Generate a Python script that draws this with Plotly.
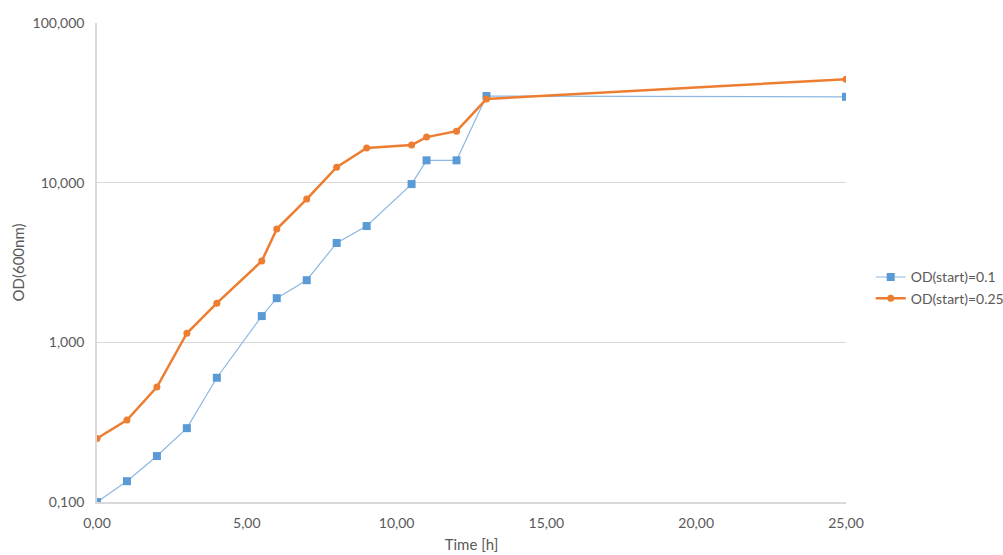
import plotly.graph_objects as go

# Growth curves: optical density over time for two starting densities
time_h = [0, 1, 2, 3, 4, 5.5, 6, 7, 8, 9, 10.5, 11, 12, 13, 25]
od_start_01 = [0.1, 0.135, 0.194, 0.29, 0.6, 1.46, 1.89, 2.45, 4.19, 5.35, 9.8, 13.8, 13.8, 34.9, 34.5]
od_start_025 = [0.25, 0.326, 0.525, 1.14, 1.76, 3.23, 5.12, 7.9, 12.5, 16.5, 17.2, 19.3, 21.0, 33.4, 44.5]

y_ticks = [0.1, 1, 10, 100]
x_ticks = [0, 5, 10, 15, 20, 25]

font_family = "Lato, Open Sans, sans-serif"
text_color = "#595959"
grid_color = "#D9D9D9"

fig = go.Figure()
fig.add_trace(go.Scatter(
    x=time_h, y=od_start_01, name="OD(start)=0.1",
    mode="lines+markers",
    line=dict(color="#8DB7E2", width=1.2),
    marker=dict(symbol="square", size=8, color="#5B9BD5"),
))
fig.add_trace(go.Scatter(
    x=time_h, y=od_start_025, name="OD(start)=0.25",
    mode="lines+markers",
    line=dict(color="#ED7D31", width=2.5),
    marker=dict(symbol="circle", size=7, color="#ED7D31"),
))

fig.update_layout(
    width=1003, height=555,
    margin=dict(l=97, r=157, t=23, b=53, autoexpand=False),
    paper_bgcolor="white", plot_bgcolor="white",
    separators=",.",
    font=dict(family=font_family, color=text_color, size=14),
    showlegend=True,
    legend=dict(
        x=1.033, y=0.447, xanchor="left", yanchor="middle",
        font=dict(size=14, color=text_color),
        bgcolor="rgba(0,0,0,0)", itemwidth=30,
    ),
)

fig.update_xaxes(
    range=[0, 25], tickvals=x_ticks, tickformat=".2f",
    showgrid=False, zeroline=False,
    showline=True, linecolor=grid_color, linewidth=1.5,
    ticks="", ticklabelstandoff=7, automargin=False,
    title=dict(text="Time [h]", font=dict(size=15, color=text_color), standoff=10),
)
fig.update_yaxes(
    type="log", range=[-1, 2], tickvals=y_ticks, tickformat=".3f",
    showgrid=True, gridcolor=grid_color, gridwidth=1,
    zeroline=False,
    showline=True, linecolor=grid_color, linewidth=1.5,
    ticks="", ticklabelstandoff=8, automargin=False,
    title=dict(text="OD(600nm)", font=dict(size=15, color=text_color), standoff=4),
)

fig.write_html("out.html")
